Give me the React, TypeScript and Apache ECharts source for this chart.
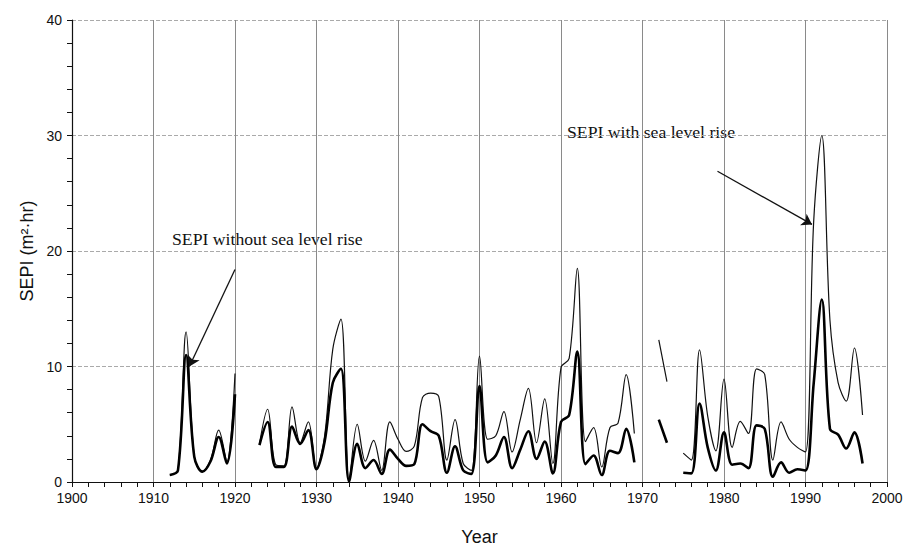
import React, { useEffect, useRef } from "react";
import * as echarts from "echarts";

// Annual storm erosion potential index, 1912–1997 (null = no record)
const years: number[] = [];
for (let y = 1912; y <= 1997; y++) years.push(y);

const withSeaLevelRise: (number | null)[] = [
  0.6, 1.0, 13.0, 2.2, 0.9, 1.9, 4.5, 1.8, 9.4, null,
  null, 3.3, 6.3, 1.5, 1.4, 6.5, 3.4, 5.2, 1.2, 4.0,
  11.5, 14.1, 0.1, 5.0, 1.8, 3.6, 1.0, 5.2, 3.7, 2.65,
  3.1, 7.3, 7.7, 7.4, 1.9, 5.4, 1.6, 1.0, 10.9, 3.7,
  4.0, 6.1, 2.6, 5.4, 8.1, 3.4, 7.2, 1.6, 9.9, 10.7,
  18.5, 3.5, 4.7, 1.3, 4.7, 5.1, 9.3, 4.2, null, null,
  12.3, 8.7, null, 2.5, 1.9, 11.45, 5.7, 2.7, 8.9, 3.0,
  5.25, 4.2, 9.8, 9.3, 1.9, 5.2, 3.7, 3.0, 2.6, 22.5,
  30.0, 14.0, 8.6, 7.0, 11.6, 5.8,
];

const withoutSeaLevelRise: (number | null)[] = [
  0.6, 1.0, 11.0, 2.2, 0.9, 1.8, 3.9, 1.6, 7.6, null,
  null, 3.2, 5.2, 1.3, 1.3, 4.8, 3.3, 4.5, 1.1, 3.5,
  8.6, 9.8, 0.05, 3.3, 1.2, 1.9, 0.7, 2.8, 2.0, 1.4,
  1.55, 5.0, 4.4, 4.0, 0.8, 3.1, 1.0, 0.7, 8.3, 1.7,
  2.3, 3.9, 1.2, 2.8, 4.4, 2.0, 3.5, 0.75, 5.2, 5.8,
  11.3, 1.55, 2.3, 0.6, 2.7, 2.5, 4.6, 1.7, null, null,
  5.4, 3.4, null, 0.8, 0.75, 6.8, 3.0, 1.0, 4.3, 1.5,
  1.6, 1.2, 4.9, 4.6, 0.45, 1.7, 0.8, 1.1, 1.0, 8.5,
  15.8, 4.6, 4.1, 2.9, 4.3, 1.6,
];

// Annotation arrows: [tail, head] in data coordinates
const arrowWithout: [number, number][] = [[1920.0, 18.4], [1914.4, 10.0]];
const arrowWith: [number, number][] = [[1979.2, 26.9], [1990.8, 22.3]];

const pairs = (vals: (number | null)[]) =>
  years.map((y, i) => [y, vals[i] === null ? "-" : vals[i]]);

const arrowLine = (a: [number, number][]) => ({
  silent: true,
  animation: false,
  symbol: ["none", "arrow"],
  symbolSize: 10,
  itemStyle: { color: "#111" },
  label: { show: false },
  emphasis: { disabled: true },
  lineStyle: { color: "#111", width: 1.3, type: "solid" },
  data: [[{ coord: a[0] }, { coord: a[1] }]],
});

export default function App() {
  const ref = useRef<HTMLDivElement>(null);

  useEffect(() => {
    if (!ref.current) return;
    const chart = echarts.init(ref.current, null, { renderer: "svg" });
    const axisFont = { fontFamily: "Liberation Sans, Arial, sans-serif", fontSize: 14, color: "#111" };
    chart.setOption({
      animation: false,
      backgroundColor: "#fff",
      grid: { left: 72, right: 20, top: 20, bottom: 70, containLabel: false },
      xAxis: {
        type: "value",
        min: 1900,
        max: 2000,
        interval: 10,
        name: "Year",
        nameLocation: "middle",
        nameGap: 46,
        nameTextStyle: { fontFamily: "Liberation Sans, Arial, sans-serif", fontSize: 18, color: "#111" },
        axisLine: { lineStyle: { color: "#111", width: 1.2 } },
        axisTick: { show: true, length: 5, lineStyle: { color: "#111" } },
        minorTick: { show: true, splitNumber: 5, length: 5, lineStyle: { color: "#111" } },
        axisLabel: { ...axisFont, margin: 9, formatter: (v: number) => String(v) },
        splitLine: { show: true, lineStyle: { color: "#8a8a8a", width: 1 } },
      },
      yAxis: {
        type: "value",
        min: 0,
        max: 40,
        interval: 10,
        name: "SEPI (m²·hr)",
        nameLocation: "middle",
        nameGap: 36,
        nameTextStyle: { fontFamily: "Liberation Sans, Arial, sans-serif", fontSize: 18, color: "#111" },
        axisLine: { show: true, lineStyle: { color: "#111", width: 1.2 } },
        axisTick: { show: true, length: 5, lineStyle: { color: "#111" } },
        minorTick: { show: true, splitNumber: 5, length: 5, lineStyle: { color: "#111" } },
        axisLabel: { ...axisFont, margin: 10 },
        splitLine: { show: true, lineStyle: { color: "#aaa", width: 1, type: [4, 2] } },
      },
      series: [
        {
          name: "SEPI with sea level rise",
          type: "line",
          data: pairs(withSeaLevelRise),
          smooth: 0.35,
          connectNulls: false,
          showSymbol: false,
          symbol: "none",
          lineStyle: { color: "#111", width: 1.2 },
          markLine: arrowLine(arrowWith),
          z: 3,
        },
        {
          name: "SEPI without sea level rise",
          type: "line",
          data: pairs(withoutSeaLevelRise),
          smooth: 0.35,
          connectNulls: false,
          showSymbol: false,
          symbol: "none",
          lineStyle: { color: "#000", width: 2.6 },
          markLine: arrowLine(arrowWithout),
          z: 4,
        },
      ],
      graphic: [
        {
          type: "text",
          left: 172,
          top: 230,
          style: {
            text: "SEPI without sea level rise",
            font: "17.7px 'Liberation Serif', 'Times New Roman', serif",
            fill: "#111",
          },
        },
        {
          type: "text",
          left: 567,
          top: 123,
          style: {
            text: "SEPI with sea level rise",
            font: "17.7px 'Liberation Serif', 'Times New Roman', serif",
            fill: "#111",
          },
        },
      ],
    });
    return () => chart.dispose();
  }, []);

  return <div ref={ref} style={{ width: 907, height: 552, position: "absolute", left: 0, top: 0 }} />;
}
